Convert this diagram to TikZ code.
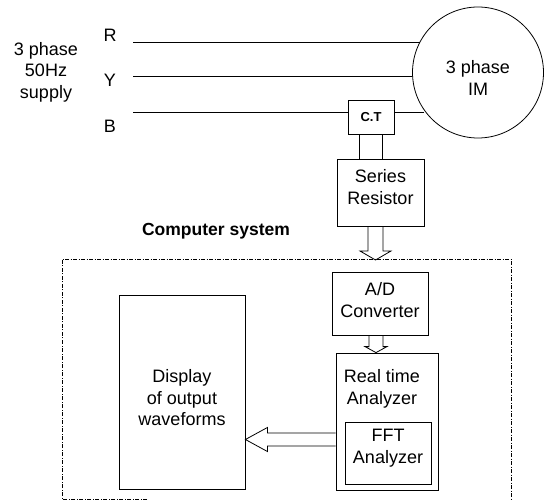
\documentclass[tikz,border=0pt]{standalone}
\usepackage{fontspec}
\setmainfont{Liberation Sans}
\usetikzlibrary{calc}
% vertical block arrow pointing down: #1 start anchor, #2 tip point, #3 x shift, #4 shaft half width, #5 head half width, #6 head length
\newcommand\vblkdown[6]{%
  \draw[blk] let \p1=($(#1)+(#3,0)$), \p2=(#2) in
    (\x1-#4,\y1) -- (\x1-#4,\y2+#6) -- (\x1-#5,\y2+#6) -- (\x1,\y2)
    -- (\x1+#5,\y2+#6) -- (\x1+#4,\y2+#6) -- (\x1+#4,\y1);}
% horizontal block arrow pointing left: #1 start anchor, #2 tip anchor, #3 y shift, #4 shaft half width, #5 head half width, #6 head length
\newcommand\hblkleft[6]{%
  \draw[blk] let \p1=($(#1)+(0,#3)$), \p2=(#2) in
    (\x1,\y1+#4) -- (\x2+#6,\y1+#4) -- (\x2+#6,\y1+#5) -- (\x2,\y1)
    -- (\x2+#6,\y1-#5) -- (\x2+#6,\y1-#4) -- (\x1,\y1-#4);}
\begin{document}
\begin{tikzpicture}[x=1pt,y=-1pt,
  lbl/.style={font=\fontsize{18}{21.5}\selectfont, align=center, inner sep=0pt},
  boxn/.style={draw, line width=0.8pt, inner sep=0pt},
  wire/.style={line width=0.8pt},
  blk/.style={line width=0.8pt},
  dashdot/.style={line width=0.7pt, dash pattern=on 4pt off 1.5pt on 1pt off 1.5pt}]
\useasboundingbox (0,0) rectangle (547,500);

% supply labels
\node[lbl] (supply) at (46,72) {3 phase\\50Hz\\supply};
\node[lbl] (R) at (110,35) {R};
\node[lbl] (Y) at (110,80) {Y};
\node[lbl] (B) at (110,126) {B};

% motor
\node[boxn, circle, minimum size=131pt] (motor) at (478,72.5) {};
\node[lbl] (motorlbl) at (478,78) {3 phase\\IM};

% current transformer and series resistor
\node[boxn, minimum width=46pt, minimum height=34pt,
      font=\bfseries\fontsize{13}{15}\selectfont] (ct) at (371,117) {C.T};
\node[boxn, minimum width=87pt, minimum height=67pt] (sr) at (380.5,192.5) {};
\node[lbl] (srlbl) at (380.5,187) {Series\\Resistor};

% wires
\coordinate (Rs) at (133,42);
\coordinate (Ys) at (133,76);
\coordinate (Bs) at (133,112);
\coordinate (Re) at (motor.152);
\coordinate (Ye) at (motor.183);
\coordinate (Be) at (motor.215);
\draw[wire] (Rs) -- (Rs -| Re);
\draw[wire] (Ys) -- (Ys -| Ye);
\draw[wire] (Bs) -- (Bs -| ct.west);
\draw[wire] (ct.east |- Bs) -- (Bs -| Be);
\coordinate (l1) at ($(ct.south)+(-12,0)$);
\coordinate (l2) at ($(ct.south)+(11,0)$);
\draw[wire] (l1) -- (l1 |- sr.north);
\draw[wire] (l2) -- (l2 |- sr.north);

% computer system
\node[font=\bfseries\fontsize{17.5}{21}\selectfont, inner sep=0pt] (cslbl) at (216,231) {Computer system};
\coordinate (cstl) at (62,259);
\coordinate (cstr) at (511,259);
\coordinate (csbr) at (511,499);
\coordinate (csbl) at (62,499);
\coordinate (csbm) at (147,499);
\draw[dashdot] (csbm) -- (csbl) -- (cstl) -- (cstr) -- (csbr);

\node[boxn, minimum width=96pt, minimum height=63pt] (ad) at (380,303.5) {};
\node[lbl] (adlbl) at (380,300) {A/D\\Converter};
\node[boxn, minimum width=102pt, minimum height=137pt] (rt) at (387,421.5) {};
\node[lbl] (rtlbl) at (382,389) {Real time\\Analyzer};
\node[boxn, minimum width=86pt, minimum height=62pt] (fft) at (388,453) {};
\node[lbl] (fftlbl) at (388,448) {FFT\\Analyzer};
\node[boxn, minimum width=126pt, minimum height=194pt] (disp) at (182,392) {};
\node[lbl] (displbl) at (182,398) {Display\\of output\\waveforms};

% block arrows
\coordinate (tip1) at (375.5,260);
\vblkdown{sr.south}{tip1}{-5}{7.5pt}{15.5pt}{9pt}
\vblkdown{ad.south}{rt.north}{-4}{7pt}{11pt}{6pt}
\hblkleft{rt.west}{disp.east}{18}{6.5pt}{12pt}{22pt}
\end{tikzpicture}
\end{document}
